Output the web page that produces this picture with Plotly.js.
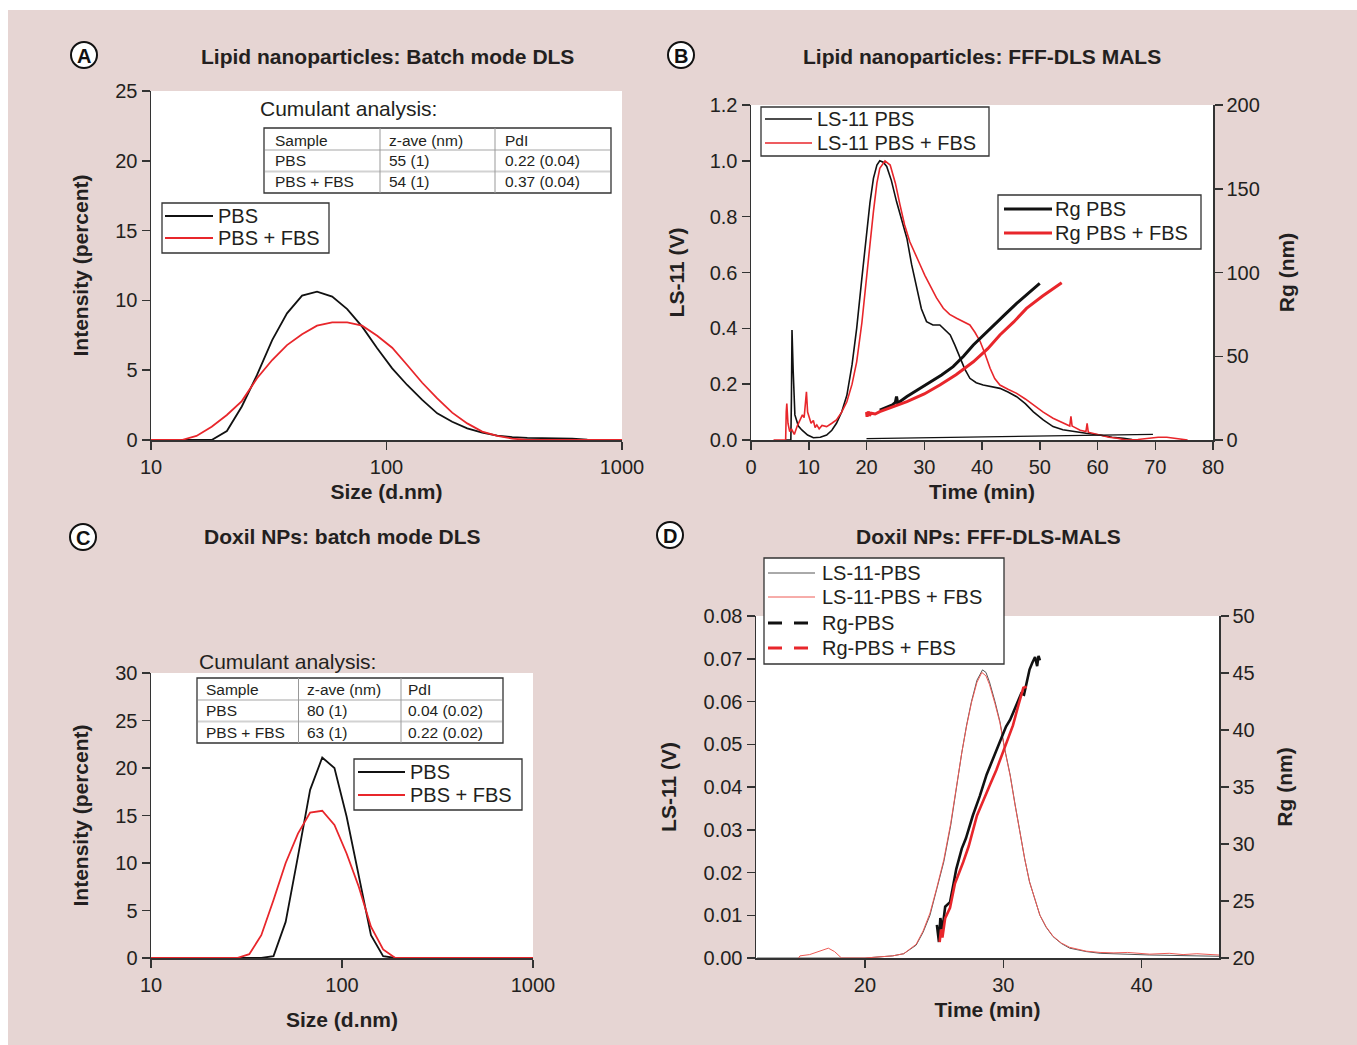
<!DOCTYPE html>
<html>
<head>
<meta charset="utf-8">
<script src="https://cdn.plot.ly/plotly-3.0.1.min.js"></script>
<style>html,body{margin:0;padding:0;background:#fff}#chart{width:1357px;height:1045px}</style>
</head>
<body>
<div id="chart"></div>
<script>
// ---------- Panel A: Lipid nanoparticles, batch DLS ----------
const sizeA = [10, 13.5, 15.6, 18.1, 21.0, 24.3, 28.2, 32.7, 37.8, 43.8, 50.7, 58.8, 68.1, 78.8, 91.3, 105.7, 122.4, 141.8, 164.2, 190.1, 220.2, 255.0, 295.3, 342.0, 396.1, 458.7, 531.2, 615.1, 712.4, 825.0, 1000];
const pbsA    = [0, 0, 0, 0, 0.64, 2.4, 4.66, 7.16, 9.07, 10.34, 10.63, 10.27, 9.38, 8.12, 6.57, 5.13, 3.94, 2.87, 1.91, 1.31, 0.83, 0.53, 0.31, 0.2, 0.15, 0.15, 0.15, 0.1, 0.03, 0, 0];
const pbsFbsA = [0, 0, 0.29, 0.95, 1.79, 2.79, 4.42, 5.73, 6.8, 7.57, 8.19, 8.43, 8.43, 8.19, 7.47, 6.61, 5.37, 4.1, 2.98, 1.96, 1.19, 0.6, 0.29, 0.1, 0, 0, 0, 0, 0, 0, 0];
const seriesA = ["PBS", "PBS + FBS"];
const tableA = [["Sample", "z-ave (nm)", "PdI"], ["PBS", "55 (1)", "0.22 (0.04)"], ["PBS + FBS", "54 (1)", "0.37 (0.04)"]];

// ---------- Panel B: Lipid nanoparticles, FFF-DLS MALS ----------
const tLsPbsB = [6.0, 6.9, 7.0, 7.1, 7.3, 7.6, 8.2, 8.8, 9.8, 10.8, 12.0, 13.1, 14.0, 14.8, 15.7, 16.6, 17.5, 18.3, 19.2, 20.0, 20.6, 21.2, 21.8, 22.3, 22.9, 23.5, 24.3, 25.2, 26.1, 27.0, 27.8, 28.7, 29.5, 30.4, 31.5, 32.7, 33.6, 34.5, 35.3, 36.2, 37.0, 37.9, 39.0, 40.2, 41.6, 43.1, 44.5, 46.0, 47.5, 48.9, 50.6, 52.3, 54.0, 55.8, 58.0, 60.4, 62.5, 64.5, 66.0];
const lsPbsB  = [0, 0, 0.15, 0.394, 0.25, 0.09, 0.05, 0.036, 0.018, 0.008, 0.01, 0.018, 0.035, 0.06, 0.1, 0.16, 0.27, 0.40, 0.58, 0.734, 0.85, 0.937, 0.985, 1.0, 0.995, 0.98, 0.93, 0.854, 0.79, 0.722, 0.63, 0.543, 0.47, 0.424, 0.412, 0.412, 0.395, 0.376, 0.34, 0.293, 0.255, 0.221, 0.205, 0.197, 0.192, 0.185, 0.172, 0.155, 0.13, 0.101, 0.072, 0.048, 0.037, 0.03, 0.024, 0.018, 0.01, 0.006, 0.002];
const tLsBaseB = [20.0, 69.6];
const lsBaseB  = [0.005, 0.02];
const tLsFbsB = [3.9, 6.0, 6.1, 6.2, 6.4, 6.7, 7.0, 7.5, 8.0, 8.5, 8.9, 9.2, 9.4, 9.6, 9.8, 10.1, 10.4, 10.8, 11.1, 11.4, 11.8, 12.3, 13.1, 14.0, 14.8, 15.7, 16.6, 17.5, 18.3, 19.2, 20.0, 20.6, 21.2, 21.8, 22.3, 23.2, 24.1, 25.0, 25.8, 26.6, 27.5, 28.4, 29.3, 30.1, 31.0, 32.1, 33.3, 34.4, 35.6, 36.7, 37.9, 38.8, 39.7, 40.5, 41.4, 42.2, 43.1, 44.5, 46.0, 47.5, 48.9, 50.6, 52.3, 54.0, 55.2, 55.4, 55.6, 55.8, 57.0, 58.0, 58.2, 58.4, 60.4, 62.0, 63.4, 65.0, 67.0, 69.0, 70.5, 72.0, 74.0, 75.6];
const lsFbsB  = [0, 0, 0.1, 0.131, 0.06, 0.03, 0.04, 0.02, 0.05, 0.07, 0.09, 0.08, 0.12, 0.173, 0.10, 0.08, 0.06, 0.07, 0.045, 0.054, 0.04, 0.052, 0.048, 0.06, 0.072, 0.1, 0.137, 0.2, 0.28, 0.42, 0.567, 0.70, 0.818, 0.92, 0.973, 1.0, 0.985, 0.92, 0.842, 0.77, 0.71, 0.665, 0.627, 0.59, 0.555, 0.51, 0.472, 0.45, 0.436, 0.425, 0.412, 0.385, 0.352, 0.31, 0.257, 0.22, 0.197, 0.182, 0.167, 0.147, 0.125, 0.1, 0.078, 0.06, 0.05, 0.085, 0.05, 0.048, 0.035, 0.03, 0.06, 0.028, 0.018, 0.01, 0.006, 0, 0.002, 0.006, 0.01, 0.01, 0.004, 0];
const tRgPbsB = [22.3, 23.5, 24.5, 25.0, 25.2, 25.4, 27.0, 29.3, 31.0, 33.0, 35.0, 36.8, 38.5, 40.2, 42.0, 44.0, 46.0, 48.0, 50.0];
const rgPbsB  = [17.9, 19.5, 21.0, 22.5, 26.0, 22.0, 26.0, 30.9, 34.5, 38.8, 43.8, 50.0, 56.7, 62.5, 68.7, 75.0, 81.6, 87.7, 93.5];
const tRgFbsB = [20.0, 20.1, 20.3, 20.5, 20.8, 21.5, 22.3, 24.5, 27.0, 30.0, 32.7, 35.5, 38.5, 41.0, 43.1, 45.5, 47.7, 50.5, 53.8];
const rgFbsB  = [16.7, 13.9, 17.0, 14.5, 16.0, 15.5, 16.9, 19.5, 22.9, 27.5, 32.8, 39.0, 46.7, 54.5, 62.7, 70.5, 78.6, 86.0, 93.9];
const seriesLsB = ["LS-11 PBS", "LS-11 PBS + FBS"];
const seriesRgB = ["Rg PBS", "Rg PBS + FBS"];

// ---------- Panel C: Doxil NPs, batch DLS ----------
const sizeC   = [10, 28.2, 32.7, 37.8, 43.8, 50.7, 58.8, 68.1, 78.8, 91.3, 105.7, 122.4, 141.8, 164.2, 190.1, 1000];
const pbsC    = [0, 0, 0, 0, 0.2, 3.8, 10.7, 17.7, 21.1, 20.0, 14.9, 8.6, 2.4, 0.2, 0, 0];
const pbsFbsC = [0, 0, 0.4, 2.4, 6.1, 10.0, 13.1, 15.3, 15.5, 14.0, 11.0, 7.5, 3.3, 0.9, 0, 0];
const seriesC = ["PBS", "PBS + FBS"];
const tableC = [["Sample", "z-ave (nm)", "PdI"], ["PBS", "80 (1)", "0.04 (0.02)"], ["PBS + FBS", "63 (1)", "0.22 (0.02)"]];

// ---------- Panel D: Doxil NPs, FFF-DLS-MALS ----------
const tLsPbsD = [12.2, 20, 22, 22.8, 23.7, 24.2, 24.7, 25.2, 25.7, 26.2, 26.6, 27.0, 27.35, 27.7, 28.1, 28.5, 28.75, 29.0, 29.4, 29.76, 30.1, 30.5, 30.85, 31.2, 31.55, 31.9, 32.3, 32.65, 33.1, 33.6, 34.2, 34.8, 36, 37, 40.6, 45.6];
const lsPbsD  = [0, 0, 0.0005, 0.001, 0.003, 0.006, 0.010, 0.016, 0.0225, 0.031, 0.0397, 0.048, 0.0545, 0.060, 0.065, 0.0674, 0.0668, 0.0646, 0.060, 0.0553, 0.049, 0.0428, 0.036, 0.0295, 0.0232, 0.0178, 0.0135, 0.010, 0.0072, 0.005, 0.0034, 0.0023, 0.0015, 0.0011, 0.0007, 0.0004];
const tLsFbsD = [15.2, 15.3, 16, 16.8, 17.35, 17.8, 18.3, 20, 22, 22.8, 23.7, 24.2, 24.7, 25.2, 25.7, 26.2, 26.6, 27.0, 27.35, 27.7, 28.1, 28.45, 28.75, 29.0, 29.4, 29.76, 30.1, 30.5, 30.85, 31.2, 31.55, 31.9, 32.3, 32.65, 33.1, 33.6, 34.2, 34.8, 36, 37, 38, 39, 40.6, 42, 43, 44, 45.6];
const lsFbsD  = [0, 0.0005, 0.0008, 0.0018, 0.0023, 0.0015, 0, 0, 0.0005, 0.001, 0.0032, 0.0063, 0.0105, 0.0165, 0.023, 0.0315, 0.040, 0.048, 0.0543, 0.0597, 0.0645, 0.0668, 0.066, 0.064, 0.0595, 0.055, 0.0488, 0.0426, 0.0358, 0.0294, 0.0232, 0.0178, 0.0135, 0.010, 0.0073, 0.0051, 0.0035, 0.0025, 0.0016, 0.0013, 0.0012, 0.0013, 0.0009, 0.0011, 0.0008, 0.001, 0.0007];
const tRgPbsD = [25.2, 25.35, 25.45, 25.6, 25.8, 26.15, 26.4, 26.6, 27.0, 27.3, 27.8, 28.3, 28.8, 29.3, 29.76, 30.2, 30.5, 30.97, 31.3, 31.5, 31.7, 31.9, 32.1, 32.3, 32.45, 32.55, 32.65];
const rgPbsD  = [22.9, 21.4, 23.5, 22.5, 24.5, 24.9, 26.5, 27.8, 29.6, 30.5, 32.5, 34.2, 36.1, 37.6, 39.0, 40.3, 40.9, 42.2, 43.2, 43.1, 44.2, 45.3, 45.9, 46.4, 45.6, 46.5, 46.1];
const tRgFbsD = [25.4, 25.5, 25.6, 25.8, 26.15, 26.5, 27.1, 27.5, 28.1, 28.6, 29.04, 29.5, 30.0, 30.4, 30.7, 31.1, 31.45, 31.7];
const rgFbsD  = [21.4, 22.5, 21.8, 23.5, 24.4, 26.5, 28.4, 29.8, 32.5, 34.0, 35.2, 36.5, 38.1, 39.5, 40.4, 42.2, 43.7, 43.8];
const seriesD = ["LS-11-PBS", "LS-11-PBS + FBS", "Rg-PBS", "Rg-PBS + FBS"];

// ---------- helpers ----------
const W = 1357, H = 1045;
const px = x => x / W;
const py = y => 1 - y / H;
const FONT = "'Liberation Sans', Arial, Helvetica, sans-serif";
const TXT = '#231f20';
const BLACK = '#111111', RED = '#e8262b', GREY = '#555555', SALMON = '#ee5a55';

const common = {
  showline: true, linecolor: '#333', linewidth: 1.5, mirror: false,
  ticks: 'outside', ticklen: 8, tickwidth: 1.5, tickcolor: '#333',
  showgrid: false, zeroline: false, automargin: false, fixedrange: true,
  tickfont: {family: FONT, size: 20, color: TXT}
};
function ax(o, title, standoff) {
  const a = Object.assign({}, common, o);
  if (title) a.title = {text: '<b>' + title + '</b>', standoff: standoff, font: {family: FONT, size: 21, color: TXT}};
  return a;
}

const traces = [
  // A
  {x: sizeA, y: pbsA, xaxis: 'x', yaxis: 'y', mode: 'lines', name: seriesA[0], line: {color: BLACK, width: 1.8}},
  {x: sizeA, y: pbsFbsA, xaxis: 'x', yaxis: 'y', mode: 'lines', name: seriesA[1], line: {color: RED, width: 1.8}},
  // B
  {x: tLsPbsB, y: lsPbsB, xaxis: 'x2', yaxis: 'y2', mode: 'lines', name: seriesLsB[0], line: {color: BLACK, width: 1.6}},
  {x: tLsFbsB, y: lsFbsB, xaxis: 'x2', yaxis: 'y2', mode: 'lines', name: seriesLsB[1], line: {color: RED, width: 1.6}},
  {x: tLsBaseB, y: lsBaseB, xaxis: 'x2', yaxis: 'y2', mode: 'lines', name: 'LS-11 PBS baseline', line: {color: BLACK, width: 1.2}},
  {x: tRgPbsB, y: rgPbsB, xaxis: 'x2', yaxis: 'y3', mode: 'lines', name: seriesRgB[0], line: {color: BLACK, width: 3}},
  {x: tRgFbsB, y: rgFbsB, xaxis: 'x2', yaxis: 'y3', mode: 'lines', name: seriesRgB[1], line: {color: RED, width: 3}},
  // C
  {x: sizeC, y: pbsC, xaxis: 'x3', yaxis: 'y4', mode: 'lines', name: seriesC[0], line: {color: BLACK, width: 1.8}},
  {x: sizeC, y: pbsFbsC, xaxis: 'x3', yaxis: 'y4', mode: 'lines', name: seriesC[1], line: {color: RED, width: 1.8}},
  // D
  {x: tLsPbsD, y: lsPbsD, xaxis: 'x4', yaxis: 'y5', mode: 'lines', name: seriesD[0], line: {color: GREY, width: 1}},
  {x: tLsFbsD, y: lsFbsD, xaxis: 'x4', yaxis: 'y5', mode: 'lines', name: seriesD[1], line: {color: SALMON, width: 1}},
  {x: tRgPbsD, y: rgPbsD, xaxis: 'x4', yaxis: 'y6', mode: 'lines', name: seriesD[2], line: {color: BLACK, width: 2.6}},
  {x: tRgFbsD, y: rgFbsD, xaxis: 'x4', yaxis: 'y6', mode: 'lines', name: seriesD[3], line: {color: RED, width: 2.6}}
];

const shapes = [];
const annotations = [];
// white margins outside the pink panel
shapes.push({type: 'rect', xref: 'paper', yref: 'paper', x0: 0, x1: px(8), y0: 0, y1: 1, fillcolor: '#fff', line: {width: 0}, layer: 'below'});
shapes.push({type: 'rect', xref: 'paper', yref: 'paper', x0: 0, x1: 1, y0: py(10), y1: 1, fillcolor: '#fff', line: {width: 0}, layer: 'below'});

function text(t, x, y, size, anchor, bold, color) {
  annotations.push({xref: 'paper', yref: 'paper', x: px(x), y: py(y), xanchor: anchor || 'left', yanchor: 'middle', showarrow: false,
    text: bold ? '<b>' + t + '</b>' : t, font: {family: FONT, size: size, color: color || TXT}});
}
function hline(x0, x1, y, color, width, dash) {
  shapes.push({type: 'line', xref: 'paper', yref: 'paper', x0: px(x0), x1: px(x1), y0: py(y), y1: py(y), line: {color: color, width: width, dash: dash || 'solid'}});
}

// panel titles and letters
function letter(l, cx, cy) {
  shapes.push({type: 'circle', xref: 'paper', yref: 'paper', x0: px(cx - 13), x1: px(cx + 13), y0: py(cy + 13), y1: py(cy - 13),
    fillcolor: '#fff', line: {color: '#111', width: 2}});
  text(l, cx, cy + 1, 20, 'center', true, '#111');
}
text('Lipid nanoparticles: Batch mode DLS', 387, 56, 21, 'center', true);
text('Lipid nanoparticles: FFF-DLS MALS', 982, 56, 21, 'center', true);
text('Doxil NPs: batch mode DLS', 342, 536, 21, 'center', true);
text('Doxil NPs: FFF-DLS-MALS', 988, 536, 21, 'center', true);
letter('A', 84, 55);
letter('B', 681, 55);
letter('C', 83, 537);
letter('D', 670, 535);

// legend boxes (drawn as layout shapes + text)
function legendBox(left, top, right, bottom, items) {
  shapes.push({type: 'rect', xref: 'paper', yref: 'paper', x0: px(left), x1: px(right), y0: py(bottom), y1: py(top),
    fillcolor: '#fff', line: {color: '#333', width: 1.3}});
  items.forEach(it => {
    hline(it.x0, it.x1, it.y, it.color, it.width, it.dash);
    text(it.label, it.tx, it.y, 20, 'left', false);
  });
}
legendBox(162, 203, 329, 253, [
  {label: seriesA[0], y: 216, x0: 165, x1: 213, tx: 216, color: BLACK, width: 1.8},
  {label: seriesA[1], y: 238, x0: 165, x1: 213, tx: 216, color: RED, width: 1.8}]);
legendBox(761, 107, 989, 156, [
  {label: seriesLsB[0], y: 119, x0: 765, x1: 812, tx: 815, color: BLACK, width: 1.6},
  {label: seriesLsB[1], y: 143, x0: 765, x1: 812, tx: 815, color: RED, width: 1.6}]);
legendBox(998, 195, 1201, 249, [
  {label: seriesRgB[0], y: 209, x0: 1004, x1: 1052, tx: 1053, color: BLACK, width: 3},
  {label: seriesRgB[1], y: 233, x0: 1004, x1: 1052, tx: 1053, color: RED, width: 3}]);
legendBox(354, 759, 522, 810, [
  {label: seriesC[0], y: 772, x0: 358, x1: 405, tx: 408, color: BLACK, width: 1.8},
  {label: seriesC[1], y: 795, x0: 358, x1: 405, tx: 408, color: RED, width: 1.8}]);
legendBox(764, 558, 1004, 664, [
  {label: seriesD[0], y: 573, x0: 768, x1: 815, tx: 820, color: GREY, width: 1},
  {label: seriesD[1], y: 597, x0: 768, x1: 815, tx: 820, color: SALMON, width: 1},
  {label: seriesD[2], y: 623, x0: 768, x1: 808, tx: 820, color: BLACK, width: 3, dash: '14px,12px'},
  {label: seriesD[3], y: 648, x0: 768, x1: 808, tx: 820, color: RED, width: 3, dash: '14px,12px'}]);

// cumulant tables
function table(rows, left, right, top, bottom, colX, rowLines, textX, rowY, capX, capY) {
  text('Cumulant analysis:', capX, capY, 21, 'left', false);
  shapes.push({type: 'rect', xref: 'paper', yref: 'paper', x0: px(left), x1: px(right), y0: py(bottom), y1: py(top),
    fillcolor: '#fff', line: {color: '#333', width: 1.3}});
  rowLines.forEach(y => hline(left + 1, right - 1, y, '#d2d2d2', 2));
  colX.forEach(x => shapes.push({type: 'line', xref: 'paper', yref: 'paper', x0: px(x), x1: px(x), y0: py(bottom), y1: py(top), line: {color: '#999', width: 1}}));
  rows.forEach((r, i) => r.forEach((c, j) => text(c, textX[j], rowY[i], 15.5, 'left', false)));
}
table(tableA, 264, 611, 128, 193, [380, 495], [150, 171.5], [273, 387, 503], [140, 160.5, 181.5], 258, 108);
table(tableC, 197, 503, 678, 743, [298.5, 401], [700, 721.5], [204, 305, 406], [689.5, 710.5, 732], 197, 661);

const layout = {
  width: W, height: H,
  margin: {l: 0, r: 0, t: 0, b: 0, pad: 0},
  paper_bgcolor: '#e6d5d3', plot_bgcolor: '#ffffff',
  font: {family: FONT, size: 20, color: TXT},
  showlegend: false,
  xaxis: ax({domain: [px(151), px(622)], anchor: 'y', type: 'log', range: [1, 3], tickvals: [10, 100, 1000], ticktext: ['10', '100', '1000']}, 'Size (d.nm)', 8),
  yaxis: ax({domain: [py(440), py(91)], anchor: 'x', range: [0, 25], dtick: 5}, 'Intensity (percent)', 21),
  xaxis2: ax({domain: [px(751), px(1213)], anchor: 'y2', range: [0, 80], dtick: 10}, 'Time (min)', 8),
  yaxis2: ax({domain: [py(440), py(105)], anchor: 'x2', range: [0, 1.2], dtick: 0.2, tickformat: '.1f'}, 'LS-11 (V)', 19),
  yaxis3: ax({domain: [py(440), py(105)], anchor: 'x2', overlaying: 'y2', side: 'right', range: [0, 200], dtick: 50}, 'Rg (nm)', 20),
  xaxis3: ax({domain: [px(151), px(533)], anchor: 'y4', type: 'log', range: [1, 3], tickvals: [10, 100, 1000], ticktext: ['10', '100', '1000']}, 'Size (d.nm)', 18),
  yaxis4: ax({domain: [py(958), py(673)], anchor: 'x3', range: [0, 30], dtick: 5}, 'Intensity (percent)', 21),
  xaxis4: ax({domain: [px(756), px(1219)], anchor: 'y5', range: [12.12, 45.6], tickvals: [20, 30, 40]}, 'Time (min)', 8),
  yaxis5: ax({domain: [py(958), py(616)], anchor: 'x4', range: [0, 0.08], dtick: 0.01, tickformat: '.2f'}, 'LS-11 (V)', 21),
  yaxis6: ax({domain: [py(958), py(616)], anchor: 'x4', overlaying: 'y5', side: 'right', range: [20, 50], dtick: 5}, 'Rg (nm)', 23),
  shapes: shapes,
  annotations: annotations
};

Plotly.newPlot('chart', traces, layout, {staticPlot: true, displayModeBar: false});
</script>
</body>
</html>
